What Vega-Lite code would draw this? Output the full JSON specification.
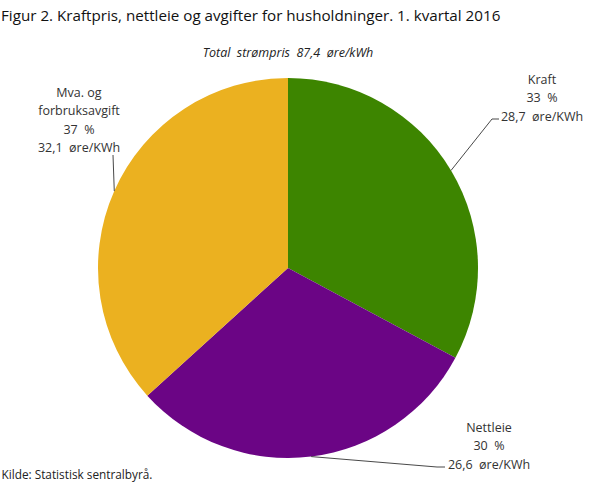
{
  "$schema": "https://vega.github.io/schema/vega-lite/v6.json",
  "width": 576,
  "height": 380,
  "autosize": {"type": "none"},
  "padding": {"left": 0, "top": 78, "right": 32, "bottom": 30},
  "background": "white",
  "title": {
    "text": "Figur 2. Kraftpris, nettleie og avgifter for husholdninger. 1. kvartal 2016",
    "anchor": "start",
    "frame": "group",
    "font": "Open Sans",
    "fontSize": 15.2,
    "fontWeight": 500,
    "color": "#111111",
    "offset": 23,
    "dx": 1
  },
  "config": {
    "view": {"stroke": null},
    "font": "Open Sans",
    "axisX": {"labels": false, "ticks": false, "domain": false, "grid": false}
  },
  "data": {
    "values": [
      {"kategori": "Kraft", "verdi": 28.7, "rekkefolge": 1},
      {"kategori": "Nettleie", "verdi": 26.6, "rekkefolge": 2},
      {"kategori": "Mva. og forbruksavgift", "verdi": 32.1, "rekkefolge": 3}
    ]
  },
  "layer": [
    {
      "mark": {"type": "arc"},
      "encoding": {
        "theta": {"field": "verdi", "type": "quantitative", "stack": true},
        "color": {
          "field": "kategori",
          "type": "nominal",
          "scale": {"domain": ["Kraft", "Nettleie", "Mva. og forbruksavgift"], "range": ["#3d8500", "#6b0585", "#ebb120"]},
          "legend": null
        },
        "order": {"field": "rekkefolge", "type": "quantitative"}
      }
    },
    {
      "transform": [
        {"joinaggregate": [{"op": "sum", "field": "verdi", "as": "total"}]},
        {"window": [{"op": "sum", "field": "verdi", "as": "kum"}], "sort": [{"field": "rekkefolge"}], "frame": [null, 0]},
        {"calculate": "(datum.kum - datum.verdi / 2) / datum.total * 2 * PI", "as": "mid"},
        {"calculate": "190 * sin(datum.mid)", "as": "ex"},
        {"calculate": "190 * cos(datum.mid)", "as": "ey"},
        {"calculate": "datum.kategori === 'Kraft' ? 204 : datum.kategori === 'Nettleie' ? 149 : -175", "as": "bx"},
        {"calculate": "datum.kategori === 'Kraft' ? 149 : datum.kategori === 'Nettleie' ? -199 : 113", "as": "by"},
        {"calculate": "datum.kategori === 'Kraft' ? 211 : datum.kategori === 'Nettleie' ? 157 : -175", "as": "tx"}
      ],
      "layer": [
        {
          "mark": {"type": "rule", "color": "#333333", "strokeWidth": 0.9},
          "encoding": {
            "x": {"field": "ex", "type": "quantitative", "scale": {"domain": [-288, 288], "nice": false, "zero": false}, "axis": {"title": "Kilde: Statistisk sentralbyrå.", "titleAnchor": "start", "titleAlign": "left", "titleBaseline": "alphabetic", "titleX": 1, "titleY": 20, "titleFont": "Open Sans", "titleFontSize": 11.8, "titleFontWeight": "normal", "titleColor": "#222222"}},
            "y": {"field": "ey", "type": "quantitative", "scale": {"domain": [-190, 190], "nice": false, "zero": false}, "axis": null},
            "x2": {"field": "bx"},
            "y2": {"field": "by"}
          }
        },
        {
          "mark": {"type": "rule", "color": "#333333", "strokeWidth": 0.9},
          "encoding": {
            "x": {"field": "bx", "type": "quantitative", "axis": {"title": "Kilde: Statistisk sentralbyrå.", "titleAnchor": "start", "titleAlign": "left", "titleBaseline": "alphabetic", "titleX": 1, "titleY": 20, "titleFont": "Open Sans", "titleFontSize": 11.8, "titleFontWeight": "normal", "titleColor": "#222222"}},
            "y": {"field": "by", "type": "quantitative", "axis": null},
            "x2": {"field": "tx"},
            "y2": {"field": "by"}
          }
        }
      ]
    },
    {
      "transform": [
        {"joinaggregate": [{"op": "sum", "field": "verdi", "as": "total"}]},
        {"calculate": "datum.kategori === 'Kraft' ? 254 : datum.kategori === 'Nettleie' ? 201 : -209", "as": "lx"},
        {"calculate": "datum.kategori === 'Kraft' ? 184 : datum.kategori === 'Nettleie' ? -164 : 171", "as": "ly"},
        {"calculate": "replace(datum.kategori, ' og ', ' og\\n') + '\\n' + round(datum.verdi / datum.total * 100) + '\u00a0 %\\n' + replace(format(datum.verdi, '.1f'), '.', ',') + '\u00a0 øre/KWh'", "as": "etikett"}
      ],
      "mark": {"type": "text", "align": "center", "baseline": "alphabetic", "lineBreak": "\n", "lineHeight": 18.3, "font": "Open Sans", "fontSize": 12.5, "color": "#333333"},
      "encoding": {
        "x": {"field": "lx", "type": "quantitative", "axis": {"title": "Kilde: Statistisk sentralbyrå.", "titleAnchor": "start", "titleAlign": "left", "titleBaseline": "alphabetic", "titleX": 1, "titleY": 20, "titleFont": "Open Sans", "titleFontSize": 11.8, "titleFontWeight": "normal", "titleColor": "#222222"}},
        "y": {"field": "ly", "type": "quantitative", "axis": null},
        "text": {"field": "etikett", "type": "nominal"}
      }
    },
    {
      "transform": [
        {"aggregate": [{"op": "sum", "field": "verdi", "as": "total"}]},
        {"calculate": "'Total\u00a0 strømpris\u00a0 ' + replace(format(datum.total, '.1f'), '.', ',') + '\u00a0 øre/kWh'", "as": "tekst"}
      ],
      "mark": {"type": "text", "align": "center", "baseline": "alphabetic", "font": "Open Sans", "fontSize": 12.5, "fontStyle": "italic", "color": "#222222"},
      "encoding": {
        "x": {"datum": 0, "type": "quantitative", "axis": {"title": "Kilde: Statistisk sentralbyrå.", "titleAnchor": "start", "titleAlign": "left", "titleBaseline": "alphabetic", "titleX": 1, "titleY": 20, "titleFont": "Open Sans", "titleFontSize": 11.8, "titleFontWeight": "normal", "titleColor": "#222222"}},
        "y": {"datum": 211, "type": "quantitative", "axis": null},
        "text": {"field": "tekst", "type": "nominal"}
      }
    }
  ]
}
